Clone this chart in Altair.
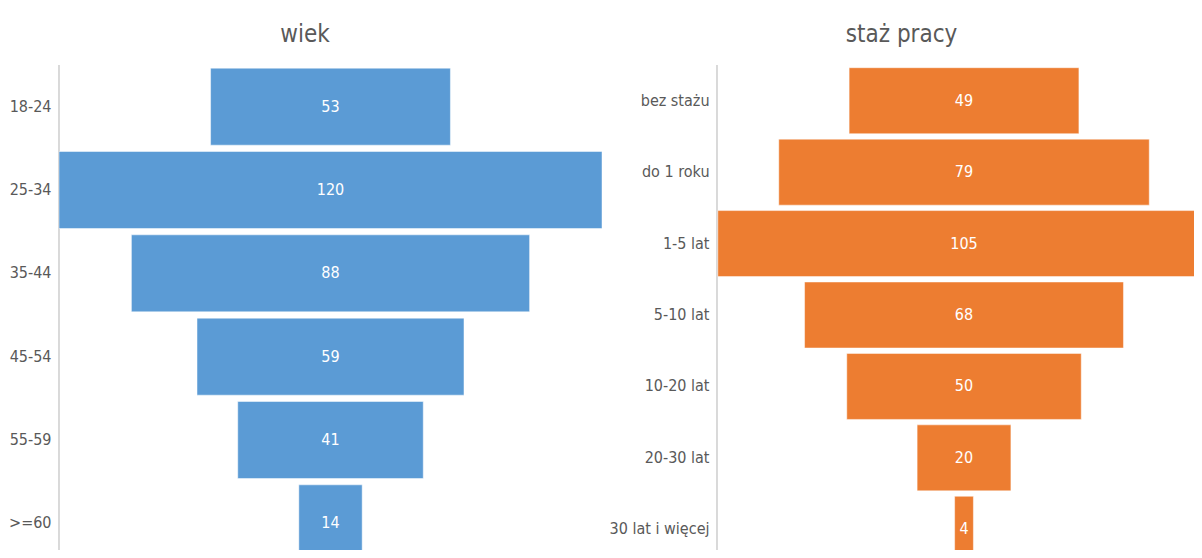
import altair as alt
import pandas as pd

age_labels = ["18-24", "25-34", "35-44", "45-54", "55-59", ">=60"]
age_values = [53, 120, 88, 59, 41, 14]

exp_labels = ["bez stażu", "do 1 roku", "1-5 lat", "5-10 lat", "10-20 lat", "20-30 lat", "30 lat i więcej"]
exp_values = [49, 79, 105, 68, 50, 20, 4]

FONT = "DejaVu Sans Condensed"
GRAY = "#595959"
PLOT_H = 485
FULL_H = 500


def funnel(labels, values, title, color, width, domain):
    df = pd.DataFrame({"cat": labels, "val": values})
    base = alt.Chart(df).transform_calculate(
        lo="-datum.val / 2", hi="datum.val / 2", mid="0"
    )
    y = alt.Y(
        "cat:N",
        sort=labels,
        title=None,
        scale=alt.Scale(range=[0, FULL_H], paddingInner=0.076, paddingOuter=0.038),
        axis=alt.Axis(
            domain=False, ticks=False, labelFont=FONT, labelFontSize=16,
            labelColor=GRAY, labelPadding=8, minExtent=51, maxExtent=51,
        ),
    )
    xscale = alt.Scale(domain=domain, nice=False, zero=False)
    bars = base.mark_bar(color=color, clip=True, stroke="#ffffff", strokeWidth=0.8, strokeOpacity=0.6).encode(
        x=alt.X("lo:Q", scale=xscale, axis=None),
        x2="hi:Q",
        y=y,
    )
    text = base.mark_text(color="white", font=FONT, fontSize=16, clip=True).encode(
        x=alt.X("mid:Q", scale=xscale, axis=None),
        y=alt.Y("cat:N", sort=labels),
        text="val:Q",
    )
    rule = alt.Chart(df).mark_rule(color="#d9d9d9", strokeWidth=1).encode(
        x=alt.value(0), y=alt.value(0), y2=alt.value(PLOT_H)
    )
    return alt.layer(rule, bars, text).properties(
        width=width,
        height=PLOT_H,
        title=alt.TitleParams(
            title, font=FONT, fontSize=24, color=GRAY, fontWeight="normal",
            anchor="middle", frame="bounds", offset=18,
        ),
    )


left = funnel(age_labels, age_values, "wiek", "#5B9BD5", 543, [-60, 60])
right = funnel(exp_labels, exp_values, "staż pracy", "#ED7D31", 477, [-52.67, 49.04])

chart = alt.hconcat(left, right, spacing=115, bounds="flush").properties(
    padding={"left": 0, "top": 14, "right": 0, "bottom": 0}
).configure_view(stroke=None)

chart.save("out.html", embed_options={"renderer": "svg", "actions": False})
